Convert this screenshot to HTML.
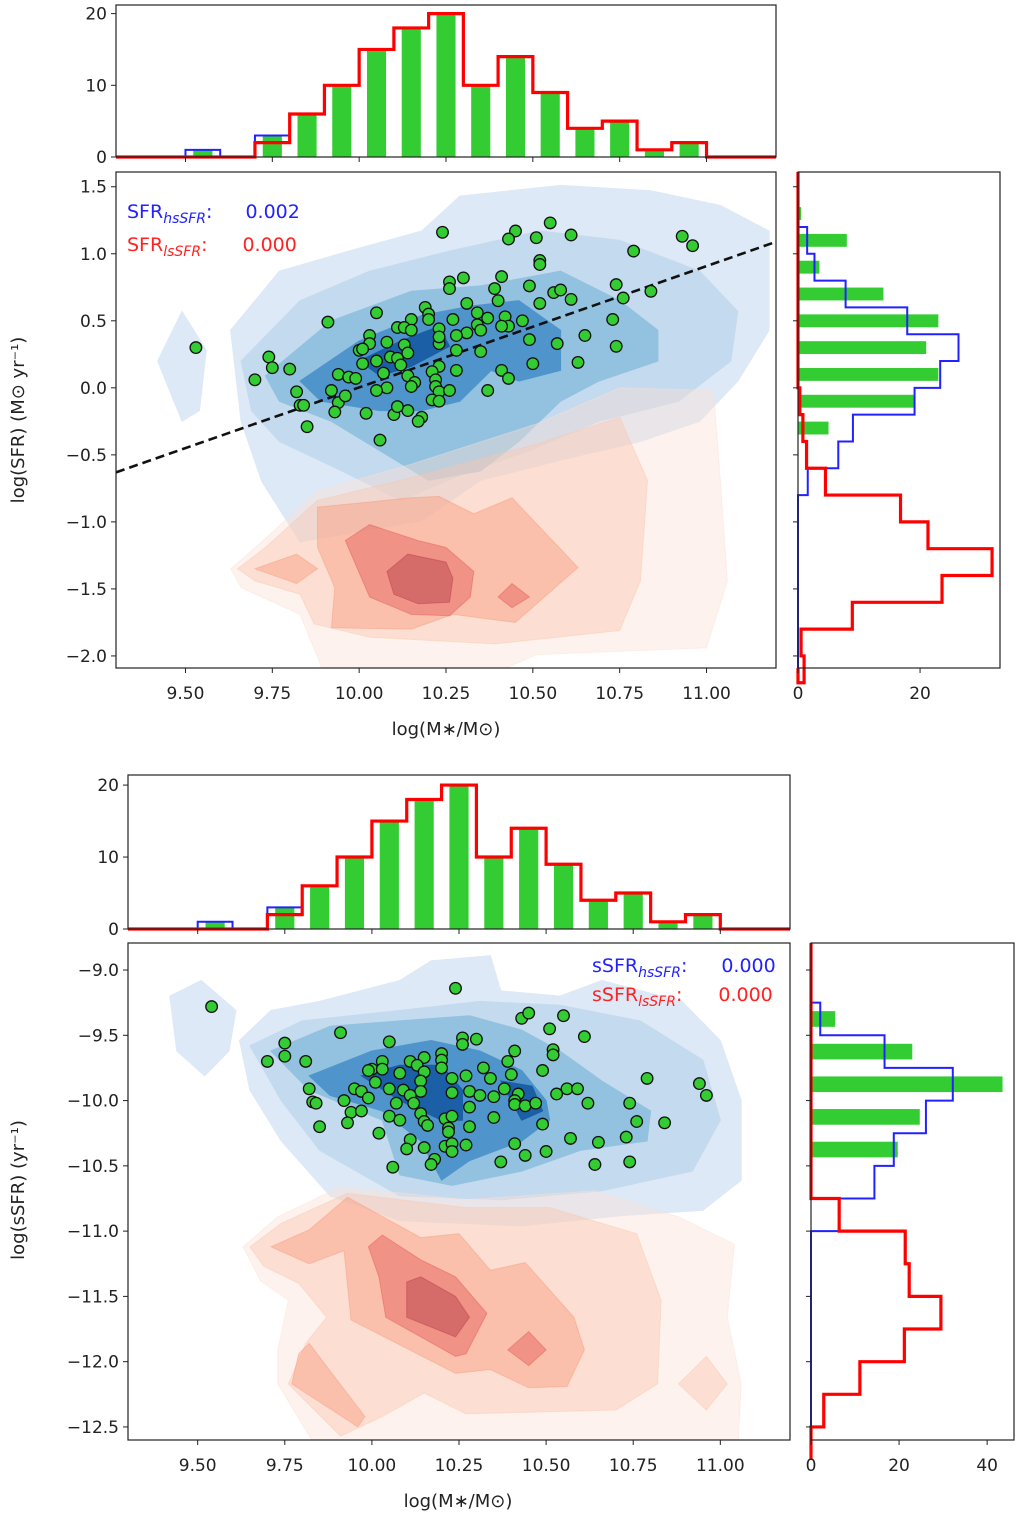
<!DOCTYPE html>
<html><head><meta charset="utf-8">
<style>
body{margin:0;background:#fff;}
svg{display:block;font-family:"DejaVu Sans","Liberation Sans",sans-serif;}
</style></head>
<body>
<svg id="fig" width="1020" height="1516" viewBox="0 0 1020 1516" xmlns="http://www.w3.org/2000/svg">
<defs>
<clipPath id="clipTop"><rect x="116" y="172" width="660" height="496"/></clipPath>
<clipPath id="clipBot"><rect x="128" y="943" width="662" height="497"/></clipPath>
</defs>
<rect width="1020" height="1516" fill="#fff"/>
</svg>
<script>
// ---------- data ----------
const massBinCenters=[9.55,9.65,9.75,9.85,9.95,10.05,10.15,10.25,10.35,10.45,10.55,10.65,10.75,10.85,10.95];
const massGreen=[1,0,3,6,10,15,18,20,10,14,9,4,5,1,2];
const massBlue=[1,0,3,6,10,15,18,20,10,14,9,4,5,1,2];
const massRed=[0,0,2,6,10,15,18,20,10,14,9,4,5,1,2];

const sfrBinCenters=[1.5,1.3,1.1,0.9,0.7,0.5,0.3,0.1,-0.1,-0.3,-0.5,-0.7,-0.9,-1.1,-1.3,-1.5,-1.7,-1.9,-2.1];
const sfrGreen=[0,0.5,8,3.5,14,23,21,23,19,5,0,0,0,0,0,0,0,0,0];
const sfrBlue=[0,0,1.5,2.7,7.8,17.9,26.3,23.3,19.1,9,6.6,1.6,0,0,0,0,0,0,0];
const sfrRed=[0,0,0,0,0,0,0,0,0.3,0.8,1.4,4.5,16.8,21.3,31.8,23.6,8.9,0.5,1];

const ssfrBinCenters=[-9.125,-9.375,-9.625,-9.875,-10.125,-10.375,-10.625,-10.875,-11.125,-11.375,-11.625,-11.875,-12.125,-12.375,-12.625];
const ssfrGreen=[0.2,5.5,23,43.5,24.7,19.7,0,0,0,0,0,0,0,0,0];
const ssfrBlue=[0,2.1,16.7,32.2,26.1,18.8,14.4,6.4,0,0,0,0,0,0,0];
const ssfrRed=[0,0,0,0,0,0,0,6.4,21.4,22.3,29.5,21.2,11.1,2.9,0];

const sfrPts=[[10.24,1.16],[10.55,1.23],[10.45,1.17],[10.43,1.11],[10.51,1.12],[10.61,1.14],[10.93,1.13],[10.96,1.06],[10.79,1.02],[10.52,0.95],[10.52,0.92],[10.26,0.79],[10.30,0.82],[10.26,0.74],[10.41,0.83],[10.39,0.74],[10.40,0.65],[10.49,0.76],[10.56,0.71],[10.58,0.73],[10.61,0.66],[10.52,0.63],[10.74,0.77],[10.76,0.67],[10.84,0.72],[10.31,0.63],[10.19,0.60],[10.20,0.55],[10.20,0.51],[10.27,0.51],[10.34,0.56],[10.37,0.52],[10.42,0.53],[10.47,0.50],[10.43,0.46],[10.41,0.46],[10.34,0.47],[10.35,0.43],[10.31,0.41],[10.28,0.39],[10.23,0.33],[10.23,0.44],[10.23,0.38],[10.15,0.51],[10.11,0.45],[10.13,0.45],[10.15,0.43],[10.05,0.56],[9.91,0.49],[10.03,0.39],[10.03,0.33],[10.08,0.34],[10.13,0.32],[10.14,0.26],[10.09,0.23],[10.11,0.22],[10.05,0.20],[10.01,0.18],[10.00,0.28],[10.01,0.29],[10.28,0.28],[10.35,0.27],[10.49,0.36],[10.57,0.33],[10.65,0.39],[10.73,0.51],[10.74,0.31],[10.63,0.19],[10.50,0.18],[10.41,0.13],[10.43,0.07],[10.37,-0.02],[10.28,0.13],[10.23,0.16],[10.21,0.12],[10.22,0.06],[10.22,0.01],[10.23,-0.03],[10.26,-0.02],[10.21,-0.09],[10.23,-0.10],[10.12,0.17],[10.14,0.09],[10.16,0.04],[10.15,0.01],[10.08,0.00],[10.07,0.11],[10.05,-0.02],[9.94,0.10],[9.97,0.08],[9.99,0.07],[9.92,-0.02],[9.94,-0.11],[9.96,-0.06],[9.82,-0.03],[9.83,-0.13],[9.84,-0.13],[9.93,-0.18],[10.02,-0.19],[10.10,-0.20],[10.14,-0.17],[10.18,-0.22],[10.17,-0.25],[10.11,-0.14],[10.06,-0.39],[9.85,-0.29],[9.74,0.23],[9.75,0.15],[9.80,0.14],[9.70,0.06],[9.53,0.30]];

const ssfrPts=[[9.54,-9.28],[10.24,-9.14],[9.91,-9.48],[10.05,-9.55],[9.75,-9.56],[9.75,-9.66],[9.70,-9.70],[9.81,-9.70],[10.43,-9.37],[10.45,-9.33],[10.55,-9.35],[10.51,-9.45],[10.61,-9.51],[10.26,-9.52],[10.30,-9.53],[10.26,-9.57],[10.52,-9.61],[10.52,-9.65],[10.41,-9.62],[10.39,-9.70],[10.40,-9.80],[10.32,-9.75],[10.49,-9.77],[10.79,-9.83],[10.94,-9.87],[10.96,-9.96],[10.20,-9.64],[10.20,-9.69],[10.15,-9.67],[10.11,-9.70],[10.13,-9.73],[10.03,-9.70],[10.00,-9.76],[9.99,-9.77],[10.03,-9.76],[10.08,-9.79],[10.15,-9.78],[10.20,-9.75],[10.27,-9.81],[10.34,-9.83],[10.01,-9.86],[10.14,-9.85],[10.14,-9.93],[10.23,-9.83],[10.23,-9.94],[10.28,-9.93],[10.31,-9.96],[10.35,-9.97],[10.38,-9.91],[10.42,-9.95],[10.41,-10.00],[10.41,-10.03],[10.44,-10.04],[10.47,-10.02],[10.53,-9.95],[10.56,-9.91],[10.59,-9.91],[10.62,-10.02],[10.74,-10.02],[10.76,-10.16],[10.84,-10.17],[9.82,-9.91],[9.83,-10.01],[9.84,-10.02],[9.92,-10.00],[9.95,-9.91],[9.97,-9.93],[9.99,-9.98],[10.05,-9.91],[10.09,-9.92],[10.11,-9.96],[10.07,-10.02],[10.12,-10.02],[9.94,-10.09],[9.97,-10.08],[9.93,-10.17],[9.85,-10.20],[10.05,-10.12],[10.08,-10.15],[10.14,-10.10],[10.15,-10.16],[10.16,-10.19],[10.21,-10.14],[10.23,-10.12],[10.22,-10.21],[10.22,-10.24],[10.28,-10.05],[10.28,-10.20],[10.35,-10.13],[10.49,-10.18],[10.57,-10.29],[10.65,-10.32],[10.73,-10.28],[10.41,-10.33],[10.44,-10.42],[10.50,-10.39],[10.37,-10.47],[10.64,-10.49],[10.74,-10.47],[10.02,-10.25],[10.11,-10.30],[10.10,-10.37],[10.15,-10.36],[10.21,-10.35],[10.23,-10.33],[10.27,-10.34],[10.23,-10.39],[10.18,-10.45],[10.17,-10.49],[10.06,-10.51]];

const fitSlope=0.905;
const fitPivot=10.0;
const fitIntercept=0.003;

const topBlueContours=[
 [0,[[9.63,0.43],[9.77,0.87],[9.97,1.02],[10.18,1.17],[10.29,1.43],[10.58,1.51],[10.84,1.47],[11.04,1.36],[11.18,1.17],[11.18,0.43],[11.09,0.05],[10.98,-0.25],[10.81,-0.40],[10.58,-0.54],[10.35,-0.69],[10.18,-0.99],[9.83,-1.15],[9.72,-0.70],[9.66,-0.25]]],
 [0,[[9.42,0.20],[9.49,0.57],[9.56,0.28],[9.54,-0.17],[9.49,-0.25]]],
 [1,[[9.66,0.20],[9.83,0.65],[10.03,0.87],[10.26,1.02],[10.52,1.17],[10.75,1.10],[10.98,0.87],[11.09,0.57],[11.07,0.20],[10.92,-0.10],[10.69,-0.25],[10.49,-0.47],[10.32,-0.62],[10.12,-0.84],[9.95,-0.62],[9.77,-0.40],[9.69,-0.17]]],
 [2,[[9.73,0.09],[9.92,0.50],[10.15,0.72],[10.35,0.76],[10.58,0.87],[10.75,0.65],[10.86,0.43],[10.86,0.20],[10.69,0.05],[10.58,-0.10],[10.46,-0.40],[10.35,-0.62],[10.20,-0.69],[10.06,-0.47],[9.92,-0.25],[9.77,-0.10]]],
 [3,[[9.83,0.05],[10.00,0.35],[10.18,0.54],[10.32,0.61],[10.46,0.65],[10.58,0.43],[10.58,0.13],[10.46,0.05],[10.38,0.13],[10.29,-0.10],[10.18,-0.17],[10.06,-0.17],[9.89,-0.10]]],
 [4,[[10.00,0.20],[10.12,0.35],[10.23,0.46],[10.26,0.31],[10.15,0.16],[10.06,0.09]]]
];
const topRedContours=[
 [0,[[9.63,-1.35],[9.71,-1.17],[9.88,-0.77],[10.15,-0.57],[10.51,-0.27],[10.75,0.00],[11.02,-0.02],[11.04,-0.69],[11.06,-1.44],[11.00,-1.94],[10.51,-1.99],[10.33,-2.2],[9.91,-2.2],[9.83,-1.69],[9.66,-1.49]]],
 [1,[[9.65,-1.35],[9.73,-1.19],[9.88,-0.84],[10.15,-0.67],[10.51,-0.42],[10.75,-0.22],[10.83,-0.69],[10.81,-1.44],[10.75,-1.81],[10.39,-1.91],[10.03,-1.86],[9.87,-1.76],[9.83,-1.54],[9.70,-1.44]]],
 [2,[[9.88,-0.89],[10.15,-0.82],[10.23,-0.81],[10.33,-0.94],[10.44,-0.82],[10.63,-1.34],[10.45,-1.75],[10.27,-1.69],[10.15,-1.80],[9.92,-1.79],[9.93,-1.49],[9.88,-1.19]]],
 [2,[[9.70,-1.35],[9.82,-1.24],[9.88,-1.35],[9.82,-1.46]]],
 [3,[[9.96,-1.14],[10.03,-1.02],[10.17,-1.14],[10.25,-1.19],[10.33,-1.37],[10.32,-1.56],[10.26,-1.70],[10.15,-1.69],[10.03,-1.56]]],
 [3,[[10.40,-1.56],[10.44,-1.46],[10.49,-1.56],[10.44,-1.64]]],
 [4,[[10.08,-1.37],[10.14,-1.24],[10.25,-1.30],[10.27,-1.42],[10.26,-1.60],[10.17,-1.61],[10.10,-1.54]]]
];
const botBlueContours=[
 [0,[[9.42,-9.20],[9.51,-9.08],[9.61,-9.31],[9.59,-9.62],[9.52,-9.81],[9.44,-9.62]]],
 [0,[[9.62,-9.54],[9.71,-9.31],[9.85,-9.24],[10.08,-9.08],[10.17,-8.93],[10.34,-8.89],[10.37,-9.16],[10.54,-9.20],[10.66,-9.08],[10.89,-9.24],[11.00,-9.54],[11.06,-10.00],[11.06,-10.61],[10.95,-10.84],[10.72,-10.88],[10.43,-10.96],[10.08,-10.92],[9.88,-10.73],[9.74,-10.31],[9.65,-9.92]]],
 [1,[[9.65,-9.58],[9.80,-9.39],[10.08,-9.31],[10.31,-9.24],[10.54,-9.27],[10.77,-9.39],[10.95,-9.69],[11.00,-10.15],[10.92,-10.54],[10.66,-10.69],[10.37,-10.76],[10.08,-10.73],[9.85,-10.38],[9.74,-10.00]]],
 [2,[[9.71,-9.62],[9.88,-9.43],[10.08,-9.39],[10.28,-9.35],[10.43,-9.46],[10.54,-9.62],[10.66,-9.85],[10.80,-10.08],[10.79,-10.31],[10.60,-10.38],[10.43,-10.54],[10.23,-10.65],[10.08,-10.57],[10.03,-10.15],[9.82,-9.92]]],
 [3,[[9.82,-9.81],[10.00,-9.62],[10.17,-9.54],[10.31,-9.62],[10.43,-9.77],[10.50,-10.00],[10.51,-10.15],[10.43,-10.31],[10.28,-10.46],[10.20,-10.61],[10.14,-10.31],[10.03,-10.08],[9.88,-9.96]]],
 [4,[[9.97,-9.81],[10.08,-9.73],[10.20,-9.73],[10.26,-9.92],[10.26,-10.15],[10.20,-10.15],[10.08,-10.00]]],
 [4,[[10.37,-9.85],[10.46,-9.89],[10.49,-10.08],[10.43,-10.15]]]
];
const botRedContours=[
 [0,[[9.63,-11.12],[9.73,-10.89],[9.91,-10.66],[10.27,-10.76],[10.64,-10.69],[10.88,-10.89],[11.04,-11.10],[11.02,-11.66],[11.06,-12.17],[11.05,-12.70],[10.15,-12.70],[9.85,-12.70],[9.73,-12.17],[9.73,-11.91],[9.76,-11.53],[9.68,-11.38]]],
 [1,[[9.65,-11.12],[9.74,-10.94],[9.93,-10.71],[10.27,-10.82],[10.51,-10.82],[10.76,-11.02],[10.83,-11.53],[10.82,-12.17],[10.70,-12.37],[10.27,-12.40],[10.15,-12.24],[10.03,-12.42],[9.91,-12.57],[9.76,-12.17],[9.81,-11.86],[9.87,-11.66],[9.79,-11.40],[9.69,-11.27]]],
 [1,[[10.88,-12.17],[10.96,-11.96],[11.02,-12.17],[10.96,-12.37]]],
 [2,[[9.71,-11.12],[9.82,-10.99],[9.93,-10.74],[10.14,-11.05],[10.25,-11.02],[10.34,-11.30],[10.44,-11.24],[10.58,-11.66],[10.61,-11.91],[10.56,-12.19],[10.45,-12.20],[10.34,-12.06],[10.24,-12.09],[9.94,-11.68],[9.92,-11.15],[9.82,-11.25]]],
 [2,[[9.79,-11.94],[9.82,-11.86],[9.98,-12.42],[9.96,-12.50],[9.77,-12.17]]],
 [3,[[9.99,-11.12],[10.03,-11.03],[10.14,-11.22],[10.24,-11.35],[10.33,-11.63],[10.27,-11.94],[10.24,-11.96],[10.04,-11.66],[10.02,-11.35]]],
 [3,[[10.39,-11.91],[10.45,-11.77],[10.50,-11.91],[10.45,-12.03]]],
 [4,[[10.10,-11.39],[10.14,-11.35],[10.24,-11.50],[10.28,-11.66],[10.24,-11.81],[10.10,-11.66]]]
];

const massTicks=[9.5,9.75,10.0,10.25,10.5,10.75,11.0];
const massTickLabels=["9.50","9.75","10.00","10.25","10.50","10.75","11.00"];
const sfrTicks=[1.5,1.0,0.5,0.0,-0.5,-1.0,-1.5,-2.0];
const sfrTickLabels=["1.5","1.0","0.5","0.0","\u22120.5","\u22121.0","\u22121.5","\u22122.0"];
const ssfrTicks=[-9.0,-9.5,-10.0,-10.5,-11.0,-11.5,-12.0,-12.5];
const ssfrTickLabels=["\u22129.0","\u22129.5","\u221210.0","\u221210.5","\u221211.0","\u221211.5","\u221212.0","\u221212.5"];
const countTicks=[0,10,20];
const rightTopTicks=[0,20];
const rightBotTicks=[0,20,40];

// ---------- styles / layout ----------
const blueCols=['#dde9f6','#c4daee','#93c2e0','#4f95cb','#1b5fa6'];
const redCols=['#fbe1d5','#fbc5ad','#f79777','#e55351','#b13945'];
const NS='http://www.w3.org/2000/svg';
const svg=document.getElementById('fig');

const P={
 topMain:{x0:116,x1:776,y0:172,y1:668,xd:[9.3,11.2],yd:[-2.09,1.61]},
 topHist:{x0:116,x1:776,y0:5,y1:157,xd:[9.3,11.2],yd:[0,21.2]},
 topRight:{x0:798,x1:1000,y0:172,y1:668,xd:[0,33.1],yd:[-2.09,1.61]},
 botMain:{x0:128,x1:790,y0:943,y1:1440,xd:[9.3,11.2],yd:[-12.6,-8.793]},
 botHist:{x0:128,x1:790,y0:775,y1:929,xd:[9.3,11.2],yd:[0,21.4]},
 botRight:{x0:811,x1:1014,y0:943,y1:1440,xd:[0,46.1],yd:[-12.6,-8.793]}
};
function sx(p,v){return p.x0+(v-p.xd[0])/(p.xd[1]-p.xd[0])*(p.x1-p.x0);}
function sy(p,v){return p.y1-(v-p.yd[0])/(p.yd[1]-p.yd[0])*(p.y1-p.y0);}
function mk(tag,attrs,parent){const e=document.createElementNS(NS,tag);for(const k in attrs)e.setAttribute(k,attrs[k]);(parent||svg).appendChild(e);return e;}

function group(name,clip){
 const g=mk('g',clip?{'clip-path':'url(#'+clip+')'}:{});
 
 
 return g;
}

function contours(p,list,cols,opacity,name,parent){
 list.forEach((c,i)=>{
  const d=c[1].map((v,j)=>(j?'L':'M')+sx(p,v[0]).toFixed(1)+','+sy(p,v[1]).toFixed(1)).join('')+'Z';
  const e=mk('path',{d:d,fill:cols[c[0]],'fill-opacity':opacity,stroke:cols[c[0]],'stroke-opacity':opacity,'stroke-width':1},parent);
  
  
 });
}

function scatter(p,pts,name,parent){
 pts.forEach((pt,i)=>{
  const c=mk('circle',{cx:sx(p,pt[0]).toFixed(1),cy:sy(p,pt[1]).toFixed(1),r:5.8,fill:'#33cc33',stroke:'#111','stroke-width':1.3},parent);
  
  
 });
}

function frame(p,name){
 const r=mk('rect',{x:p.x0,y:p.y0,width:p.x1-p.x0,height:p.y1-p.y0,fill:'none',stroke:'#222','stroke-width':1.2});
 
 
}

function xTicks(p,ticks,labels,name){
 const g=group(name);
 ticks.forEach((t,i)=>{
  const x=sx(p,t);
  mk('line',{x1:x,x2:x,y1:p.y1,y2:p.y1+5,stroke:'#222','stroke-width':1},g);
  if(labels){
   const tx=mk('text',{x:x,y:p.y1+31,'text-anchor':'middle','font-size':17,fill:'#222'},g);
   tx.textContent=labels[i];
   
   
  }
 });
}
function yTicks(p,ticks,labels,name){
 const g=group(name);
 ticks.forEach((t,i)=>{
  const y=sy(p,t);
  mk('line',{x1:p.x0-5,x2:p.x0,y1:y,y2:y,stroke:'#222','stroke-width':1},g);
  if(labels){
   const tx=mk('text',{x:p.x0-9,y:y+6,'text-anchor':'end','font-size':17,fill:'#222'},g);
   tx.textContent=labels[i];
   
   
  }
 });
}

function massHist(p,prefix){
 const g=group(prefix+'-mass-histogram');
 const w=0.055;
 massBinCenters.forEach((c,i)=>{
  if(massGreen[i]<=0)return;
  const b=mk('rect',{x:sx(p,c-w/2),y:sy(p,massGreen[i]),width:sx(p,c+w/2)-sx(p,c-w/2),height:sy(p,0)-sy(p,massGreen[i]),fill:'#33cc33'},g);
  
  
 });
 function step(vals,col,wd,nm){
  let d='M'+sx(p,p.xd[0])+','+sy(p,0)+'L'+sx(p,massBinCenters[0]-0.05)+','+sy(p,0);
  massBinCenters.forEach((c,i)=>{d+='L'+sx(p,c-0.05)+','+sy(p,vals[i])+'L'+sx(p,c+0.05)+','+sy(p,vals[i]);});
  d+='L'+sx(p,massBinCenters[massBinCenters.length-1]+0.05)+','+sy(p,0)+'L'+sx(p,p.xd[1])+','+sy(p,0);
  const e=mk('path',{d:d,fill:'none',stroke:col,'stroke-width':wd,'stroke-linejoin':'miter'},g);
  
  
 }
 step(massBlue,'#2222ff',2,'blue-step');
 step(massRed,'#ff0000',3.2,'red-step');
 frame(p,prefix+'-mass-hist-frame');
 xTicks(p,massTicks,null,prefix+'-mass-hist-xticks');
 yTicks(p,countTicks,countTicks.map(String),prefix+'-mass-hist-yticks');
}

function sideHist(p,centers,bw,green,blue,red,ticks,yt,prefix){
 const g=group(prefix+'-side-histogram');
 const h=bw*0.48;
 centers.forEach((c,i)=>{
  if(green[i]<=0)return;
  const b=mk('rect',{x:sx(p,0),y:sy(p,c+h/2),width:sx(p,green[i])-sx(p,0),height:sy(p,c-h/2)-sy(p,c+h/2),fill:'#33cc33'},g);
  
  
 });
 function step(vals,col,wd,nm){
  let d='M'+sx(p,0)+','+p.y0+'L'+sx(p,0)+','+sy(p,centers[0]+bw/2);
  centers.forEach((c,i)=>{d+='L'+sx(p,vals[i])+','+sy(p,c+bw/2)+'L'+sx(p,vals[i])+','+sy(p,c-bw/2);});
  d+='L'+sx(p,0)+','+sy(p,centers[centers.length-1]-bw/2)+'L'+sx(p,0)+','+p.y1;
  const e=mk('path',{d:d,fill:'none',stroke:col,'stroke-width':wd},g);
  
  
 }
 step(blue,'#2222ff',2,'blue-step');
 step(red,'#ff0000',3.2,'red-step');
 frame(p,prefix+'-side-hist-frame');
 xTicks(p,ticks,ticks.map(String),prefix+'-side-hist-xticks');
 yTicks(p,yt,null,prefix+'-side-hist-yticks');
}

function legend(x,y,base,sub,val,col,gap,name){
 const t=mk('text',{x:x,y:y,'font-size':19,fill:col});
 
 
 const a=mk('tspan',{},t);a.textContent=base;
 const b=mk('tspan',{'font-style':'italic','font-size':14,dy:5},t);b.textContent=sub;
 const c=mk('tspan',{dy:-5},t);c.textContent=':';
 const d=mk('tspan',{dx:gap},t);d.textContent=val;
}

// ---------- top panel ----------
(function(){
 const p=P.topMain;
 const g=group('top-main-plot','clipTop');
 contours(p,topBlueContours,blueCols,1,'top-blue-contour',g);
 contours(p,topRedContours,redCols,0.42,'top-red-contour',g);
 const x1=p.xd[0],x2=p.xd[1];
 const ln=mk('line',{x1:sx(p,x1),y1:sy(p,fitIntercept+fitSlope*(x1-fitPivot)),x2:sx(p,x2),y2:sy(p,fitIntercept+fitSlope*(x2-fitPivot)),stroke:'#111','stroke-width':2.6,'stroke-dasharray':'9,5'},g);
 
 
 scatter(p,sfrPts,'sfr-point',g);
 frame(p,'top-main-frame');
 xTicks(p,massTicks,massTickLabels,'top-x-ticks');
 yTicks(p,sfrTicks,sfrTickLabels,'top-y-ticks');
 legend(127,218,'SFR','hsSFR','0.002','#2222ff',33,'legend-hssfr');
 legend(127,251,'SFR','lsSFR','0.000','#ff2222',35,'legend-lssfr');
 const xl=mk('text',{x:446,y:735,'text-anchor':'middle','font-size':18,fill:'#222'});
 xl.textContent='log(M\u2217/M\u2299)';
 
 
 const yl=mk('text',{x:0,y:0,'text-anchor':'middle','font-size':18,fill:'#222',transform:'translate(24,420) rotate(-90)'});
 yl.textContent='log(SFR) (M\u2299 yr\u207B\u00B9)';
 
 
 massHist(P.topHist,'top');
 sideHist(P.topRight,sfrBinCenters,0.2,sfrGreen,sfrBlue,sfrRed,rightTopTicks,sfrTicks,'top');
})();

// ---------- bottom panel ----------
(function(){
 const p=P.botMain;
 const g=group('bottom-main-plot','clipBot');
 contours(p,botBlueContours,blueCols,1,'bottom-blue-contour',g);
 contours(p,botRedContours,redCols,0.42,'bottom-red-contour',g);
 scatter(p,ssfrPts,'ssfr-point',g);
 frame(p,'bottom-main-frame');
 xTicks(p,massTicks,massTickLabels,'bottom-x-ticks');
 yTicks(p,ssfrTicks,ssfrTickLabels,'bottom-y-ticks');
 legend(592,972,'sSFR','hsSFR','0.000','#2222ff',34,'legend-hsssfr');
 legend(592,1001,'sSFR','lsSFR','0.000','#ff2222',36,'legend-lsssfr');
 const xl=mk('text',{x:458,y:1507,'text-anchor':'middle','font-size':18,fill:'#222'});
 xl.textContent='log(M\u2217/M\u2299)';
 
 
 const yl=mk('text',{x:0,y:0,'text-anchor':'middle','font-size':18,fill:'#222',transform:'translate(24,1190) rotate(-90)'});
 yl.textContent='log(sSFR) (yr\u207B\u00B9)';
 
 
 massHist(P.botHist,'bottom');
 sideHist(P.botRight,ssfrBinCenters,0.25,ssfrGreen,ssfrBlue,ssfrRed,rightBotTicks,ssfrTicks,'bottom');
})();
</script>
</body></html>
